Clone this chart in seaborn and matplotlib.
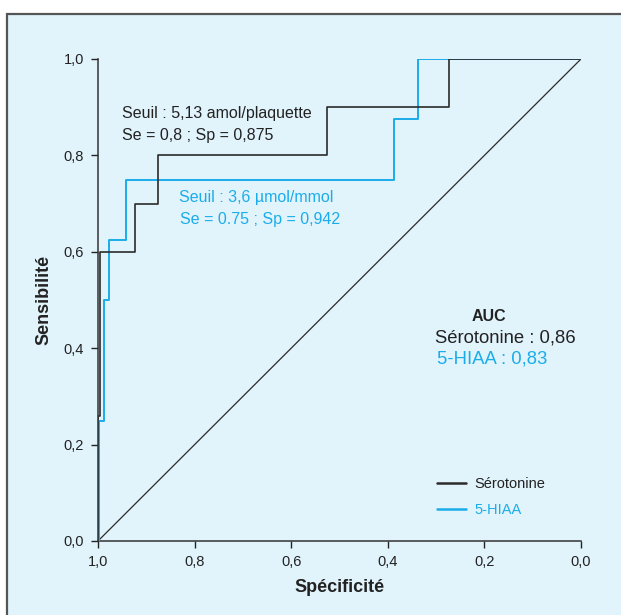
import pandas as pd
import matplotlib.pyplot as plt
import seaborn as sns
from matplotlib.patches import Rectangle

# ROC vertices (specificity, sensitivity), steps drawn vertical first
spec_sero = [1.0, 0.996, 0.923, 0.875, 0.526, 0.273, 0.0]
sens_sero = [0.0, 0.26, 0.6, 0.7, 0.8, 0.9, 1.0]

spec_hiaa = [0.997, 0.988, 0.977, 0.942, 0.387, 0.3375, 0.0]
sens_hiaa = [0.0, 0.25, 0.5, 0.625, 0.75, 0.875, 1.0]

diag_x = [1.0, 0.0]
diag_y = [0.0, 1.0]

ticks = [0.0, 0.2, 0.4, 0.6, 0.8, 1.0]
tick_labels = ['0,0', '0,2', '0,4', '0,6', '0,8', '1,0']

black = '#2b2b2b'
blue = '#1badea'

sns.set_style('ticks')
plt.rcParams['font.family'] = ['Liberation Sans', 'DejaVu Sans']

fig = plt.figure(figsize=(6.21, 6.15), dpi=100)
fig.patch.set_facecolor('white')
fig.add_artist(Rectangle((7 / 621, -0.2), 1.2, 0.2 + 1 - 14 / 615, transform=fig.transFigure,
                         facecolor='#e1f3fb', edgecolor='#555555', linewidth=1.6, zorder=-5))

ax = fig.add_axes([98 / 621, 1 - 541 / 615, 483 / 621, 482 / 615])
ax.set_facecolor('none')

df_sero = pd.DataFrame({'spec': spec_sero, 'sens': sens_sero})
df_hiaa = pd.DataFrame({'spec': spec_hiaa, 'sens': sens_hiaa})

sns.lineplot(data=df_sero, x='spec', y='sens', sort=False, estimator=None, color=black,
             linewidth=1.2, drawstyle='steps-pre', label='Sérotonine', ax=ax, zorder=4)
sns.lineplot(data=df_hiaa, x='spec', y='sens', sort=False, estimator=None, color=blue,
             linewidth=1.4, drawstyle='steps-pre', label='5-HIAA', ax=ax, zorder=3)
ax.plot(diag_x, diag_y, color=black, linewidth=0.9, zorder=2)

ax.set_xlim(1.0, 0.0)
ax.set_ylim(0.0, 1.0)
ax.set_xticks(ticks)
ax.set_xticklabels(tick_labels)
ax.set_yticks(ticks)
ax.set_yticklabels(tick_labels)
ax.tick_params(labelsize=10.5, colors='#222222', length=5, width=1, direction='out', pad=5)

for i in ['top', 'right']:
    ax.spines[i].set_visible(False)
for i in ['left', 'bottom']:
    ax.spines[i].set_color('#333333')
    ax.spines[i].set_linewidth(1.1)

ax.set_xlabel('Spécificité', fontsize=13, fontweight='bold', color='#222222', labelpad=7)
ax.set_ylabel('Sensibilité', fontsize=13, fontweight='bold', color='#222222', labelpad=8)

ax.text(0.950, 0.886, 'Seuil : 5,13 amol/plaquette', fontsize=11.5, color='#222222', va='center')
ax.text(0.950, 0.842, 'Se = 0,8 ; Sp = 0,875', fontsize=11.5, color='#222222', va='center')
ax.text(0.832, 0.712, 'Seuil : 3,6 µmol/mmol', fontsize=11.5, color=blue, va='center')
ax.text(0.830, 0.668, 'Se = 0.75 ; Sp = 0,942', fontsize=11.5, color=blue, va='center')

ax.text(0.190, 0.465, 'AUC', fontsize=11.5, fontweight='bold', color='#222222', ha='center', va='center')
ax.text(0.303, 0.421, 'Sérotonine : 0,86', fontsize=13.3, color='#222222', va='center')
ax.text(0.299, 0.378, '5-HIAA : 0,83', fontsize=13.3, color=blue, va='center')

leg = ax.legend(loc='upper left', bbox_to_anchor=(0.675, 0.16), frameon=False, fontsize=10.5,
                handlelength=2.0, handletextpad=0.55, labelspacing=0.8)
for line in leg.get_lines():
    line.set_linewidth(1.8)
leg.get_texts()[0].set_color('#222222')
leg.get_texts()[1].set_color(blue)

fig.savefig('out.png', dpi=100)
